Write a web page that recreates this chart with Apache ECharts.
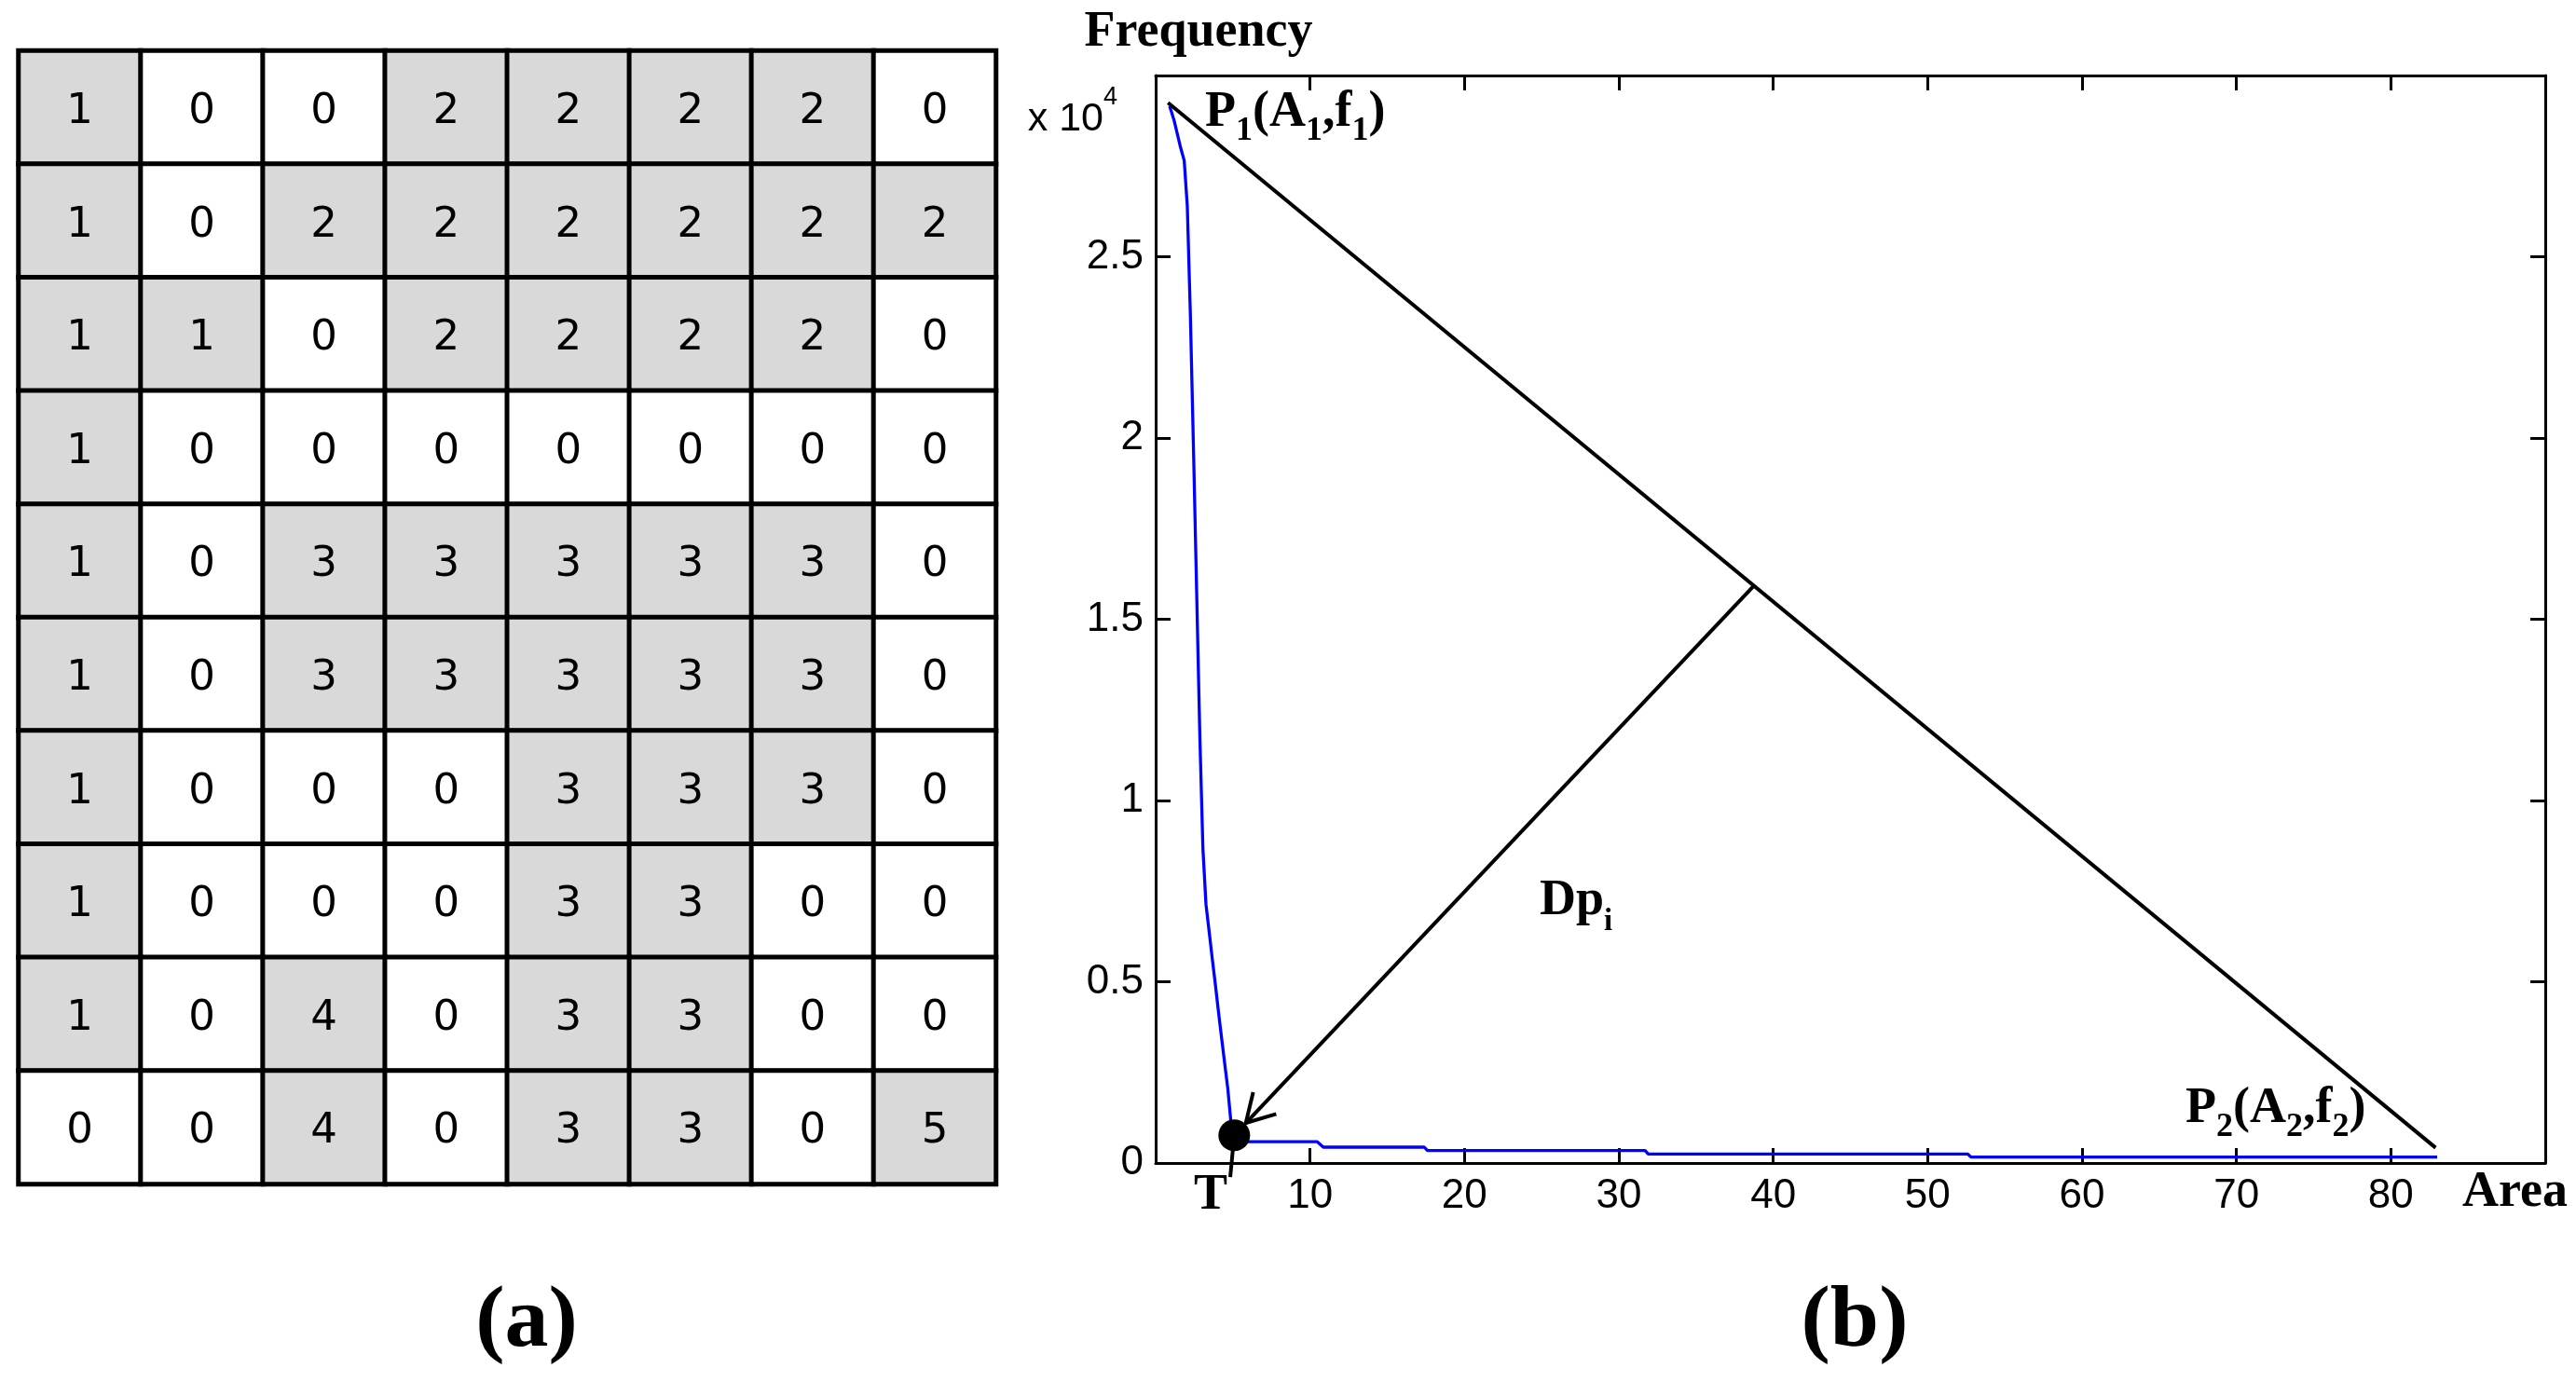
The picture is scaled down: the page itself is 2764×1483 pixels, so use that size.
<!DOCTYPE html>
<html><head><meta charset="utf-8">
<script src="https://cdn.jsdelivr.net/npm/echarts@6/dist/echarts.min.js"></script>
<style>html,body{margin:0;padding:0;background:#fff}#c{width:2764px;height:1483px}</style>
</head><body><div id="c"></div>
<script>
// ---------- (a) labelled grid ----------
const gridColumns = ['c1','c2','c3','c4','c5','c6','c7','c8'];
const gridRows = ['r1','r2','r3','r4','r5','r6','r7','r8','r9','r10'];
const row1  = [1,0,0,2,2,2,2,0];
const row2  = [1,0,2,2,2,2,2,2];
const row3  = [1,1,0,2,2,2,2,0];
const row4  = [1,0,0,0,0,0,0,0];
const row5  = [1,0,3,3,3,3,3,0];
const row6  = [1,0,3,3,3,3,3,0];
const row7  = [1,0,0,0,3,3,3,0];
const row8  = [1,0,0,0,3,3,0,0];
const row9  = [1,0,4,0,3,3,0,0];
const row10 = [0,0,4,0,3,3,0,5];
const cellRows = [row1,row2,row3,row4,row5,row6,row7,row8,row9,row10];

// ---------- (b) frequency vs area ----------
const areaTickLabels = ['', '10', '20', '30', '40', '50', '60', '70', '80', ''];
const freqTickLabels = ['0', '0.5', '1', '1.5', '2', '2.5', ''];
const curveArea = [0.9, 1.0, 1.2, 1.41, 1.61, 1.85, 2.05, 2.25, 2.46, 2.66, 2.86, 3.06, 3.26, 3.46, 3.66, 3.86, 4.06, 4.27, 4.47, 4.67, 4.87, 5.07, 10.45, 10.86, 17.4, 17.6, 31.7, 31.9, 52.6, 52.8, 83.0];
const curveFreq = [29150, 29030, 28750, 28380, 28020, 27650, 26390, 23370, 19520, 15670, 11800, 8680, 7130, 6400, 5660, 4950, 4200, 3450, 2750, 2060, 1150, 590, 590, 437, 437, 342, 342, 249, 249, 162, 162];
const pointP1 = [0.8, 29250];
const pointP2 = [82.9, 420];
const arrowFoot = [38.7, 15900];
const arrowTip = [5.84, 1105];
const thresholdPoint = [5.09, 763];
const thresholdTickEnd = [4.83, -390];

const heatData = [];
cellRows.forEach((row, r) => row.forEach((v, c) => heatData.push([c, r, v])));
const curveData = curveArea.map((a, i) => [a, curveFreq[i]]);

const serif = "'Liberation Serif','Times New Roman',serif";
const sans = "'Liberation Sans',Arial,sans-serif";
const axisCommon = {
  axisLine: { show: true, onZero: false, lineStyle: { color: '#000', width: 3 } },
  axisTick: { show: true, inside: true, length: 16, lineStyle: { color: '#000', width: 3 } },
  splitLine: { show: false }
};

const chart = echarts.init(document.getElementById('c'), null, { renderer: 'canvas' });
const option = {
  animation: false,
  backgroundColor: '#fff',
  grid: [
    { left: 20, top: 54.5, width: 1048.5, height: 1216 },
    { left: 1240, top: 81, width: 1491, height: 1167 }
  ],
  xAxis: [
    { gridIndex: 0, type: 'category', data: gridColumns, show: false },
    Object.assign({ gridIndex: 1, type: 'value', min: 0, max: 90, interval: 10, position: 'bottom',
      axisLabel: { formatter: v => areaTickLabels[Math.round(v / 10)], fontFamily: sans, fontSize: 44, color: '#000', margin: 14 } }, axisCommon),
    Object.assign({ gridIndex: 1, type: 'value', min: 0, max: 90, interval: 10, position: 'top',
      axisLabel: { show: false } }, axisCommon)
  ],
  yAxis: [
    { gridIndex: 0, type: 'category', data: gridRows, inverse: true, show: false },
    Object.assign({ gridIndex: 1, type: 'value', min: 0, max: 30000, interval: 5000, position: 'left',
      axisLabel: { formatter: v => freqTickLabels[Math.round(v / 5000)], fontFamily: sans, fontSize: 44, color: '#000', margin: 13 } }, axisCommon),
    Object.assign({ gridIndex: 1, type: 'value', min: 0, max: 30000, interval: 5000, position: 'right',
      axisLabel: { show: false } }, axisCommon)
  ],
  visualMap: {
    type: 'piecewise', show: false, seriesIndex: 0, dimension: 2,
    pieces: [{ min: 0, max: 0.5, color: '#ffffff' }, { min: 0.5, max: 100, color: '#d9d9d9' }]
  },
  series: [
    {
      type: 'heatmap', xAxisIndex: 0, yAxisIndex: 0, data: heatData,
      label: { show: true, formatter: p => String(p.value[2]), fontFamily: "'DejaVu Sans',sans-serif", fontSize: 45, color: '#000', offset: [0, 5] },
      itemStyle: { borderColor: '#000', borderWidth: 5 },
      emphasis: { disabled: true }
    },
    {
      type: 'line', xAxisIndex: 1, yAxisIndex: 1, data: curveData, symbol: 'none',
      lineStyle: { color: '#0000ff', width: 3.3 }, z: 3
    },
    {
      type: 'line', xAxisIndex: 1, yAxisIndex: 1, data: [pointP1, pointP2], symbol: 'none',
      lineStyle: { color: '#000', width: 4 }, z: 4
    },
    {
      type: 'custom', xAxisIndex: 1, yAxisIndex: 1, clip: false, z: 4,
      data: [arrowFoot],
      renderItem: function (params, api) {
        const a = api.coord(arrowFoot), b = api.coord(arrowTip);
        const ang = Math.atan2(b[1] - a[1], b[0] - a[0]);
        const L = 34, spread = Math.PI / 6;
        const h1 = [b[0] - L * Math.cos(ang - spread), b[1] - L * Math.sin(ang - spread)];
        const h2 = [b[0] - L * Math.cos(ang + spread), b[1] - L * Math.sin(ang + spread)];
        const d = api.coord(thresholdPoint), t = api.coord(thresholdTickEnd);
        return {
          type: 'group', children: [
            { type: 'line', shape: { x1: a[0], y1: a[1], x2: b[0], y2: b[1] }, style: { stroke: '#000', lineWidth: 4 } },
            { type: 'polyline', shape: { points: [h1, b, h2] }, style: { stroke: '#000', lineWidth: 4, fill: null } },
            { type: 'line', shape: { x1: d[0], y1: d[1], x2: t[0], y2: t[1] }, style: { stroke: '#000', lineWidth: 4 } }
          ]
        };
      }
    },
    {
      type: 'scatter', xAxisIndex: 1, yAxisIndex: 1, data: [thresholdPoint], symbolSize: 34,
      itemStyle: { color: '#000', opacity: 1 }, z: 6
    }
  ],
  graphic: [
    { type: 'text', x: 1286, y: 35, style: { text: 'Frequency', fontFamily: serif, fontWeight: 'bold', fontSize: 54, fill: '#000', align: 'center', verticalAlign: 'middle' } },
    { type: 'text', x: 1199, y: 128, style: { text: '{n|x 10}{p|4}', align: 'right', verticalAlign: 'middle', fill: '#000',
      rich: { n: { fontFamily: sans, fontSize: 43, fill: '#000' }, p: { fontFamily: sans, fontSize: 27, fill: '#000', padding: [0, 0, 46, 0] } } } },
    { type: 'text', x: 1293, y: 121, style: { text: '{m|P}{s|1}{m|(A}{s|1}{m|,f}{s|1}{m|)}', align: 'left', verticalAlign: 'middle',
      rich: { m: { fontFamily: serif, fontWeight: 'bold', fontSize: 54, fill: '#000' }, s: { fontFamily: serif, fontWeight: 'bold', fontSize: 36, fill: '#000', padding: [40, 0, 0, 0] } } } },
    { type: 'text', x: 2345, y: 1190, style: { text: '{m|P}{s|2}{m|(A}{s|2}{m|,f}{s|2}{m|)}', align: 'left', verticalAlign: 'middle',
      rich: { m: { fontFamily: serif, fontWeight: 'bold', fontSize: 54, fill: '#000' }, s: { fontFamily: serif, fontWeight: 'bold', fontSize: 36, fill: '#000', padding: [40, 0, 0, 0] } } } },
    { type: 'text', x: 1652, y: 967, style: { text: '{m|Dp}{s|i}', align: 'left', verticalAlign: 'middle',
      rich: { m: { fontFamily: serif, fontWeight: 'bold', fontSize: 54, fill: '#000' }, s: { fontFamily: serif, fontWeight: 'bold', fontSize: 33, fill: '#000', padding: [44, 0, 0, 0] } } } },
    { type: 'text', x: 1299, y: 1283, style: { text: 'T', fontFamily: serif, fontWeight: 'bold', fontSize: 54, fill: '#000', align: 'center', verticalAlign: 'middle' } },
    { type: 'text', x: 2642, y: 1280, style: { text: 'Area', fontFamily: serif, fontWeight: 'bold', fontSize: 54, fill: '#000', align: 'left', verticalAlign: 'middle' } },
    { type: 'text', x: 565, y: 1420, style: { text: '(a)', fontFamily: serif, fontWeight: 'bold', fontSize: 94, fill: '#000', align: 'center', verticalAlign: 'middle' } },
    { type: 'text', x: 1990, y: 1420, style: { text: '(b)', fontFamily: serif, fontWeight: 'bold', fontSize: 94, fill: '#000', align: 'center', verticalAlign: 'middle' } }
  ]
};
chart.setOption(option);
</script>
</body></html>
